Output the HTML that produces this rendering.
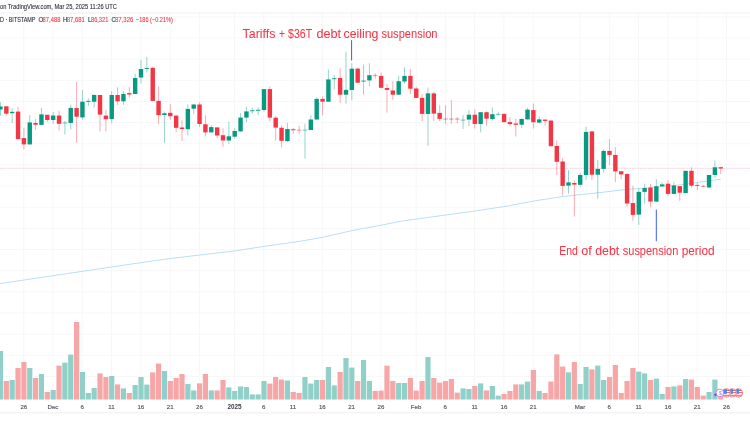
<!DOCTYPE html><html><head><meta charset="utf-8"><style>
html,body{margin:0;padding:0;width:750px;height:430px;overflow:hidden;background:#fff}
svg{display:block;will-change:transform}text{font-family:"Liberation Sans",sans-serif}
</style></head><body>
<svg width="750" height="430" viewBox="0 0 750 430">
<path d="M23.8 13V400 M53.0 13V400 M82.3 13V400 M111.5 13V400 M140.8 13V400 M170.2 13V400 M199.4 13V400 M234.6 13V400 M263.8 13V400 M293.0 13V400 M322.3 13V400 M351.6 13V400 M380.9 13V400 M416.1 13V400 M445.3 13V400 M474.6 13V400 M503.9 13V400 M533.2 13V400 M580.0 13V400 M609.3 13V400 M638.6 13V400 M667.9 13V400 M697.2 13V400 M726.4 13V400 M0 16.85H750 M0 38.00H750 M0 59.15H750 M0 80.30H750 M0 101.45H750 M0 122.60H750 M0 143.75H750 M0 164.90H750 M0 186.05H750 M0 207.20H750 M0 228.35H750 M0 249.50H750 M0 270.65H750 M0 291.80H750 M0 312.95H750 M0 334.10H750 M0 355.25H750 M0 376.40H750" stroke="#f7f7f8" stroke-width="1" fill="none"/>
<path d="M0 13.0H750" stroke="#eeeeee" stroke-width="1"/>
<path d="M0 412.7H750" stroke="#f4f4f4" stroke-width="1.5"/>
<polyline points="0,283.6 82,271.4 150,261.3 170,258.6 200,255 234,251 264,246.4 300,241.3 322,237.4 352,230.6 382,225 402,221 420,218.6 450,214.4 475,211 504,206.6 534,201 562,196.6 600,192.6 620,190.1 675,185.4 685,184.2 720.7,179.2" fill="none" stroke="rgb(186,223,244)" stroke-width="1"/>
<path d="M0 168.3H750" stroke="rgba(242,54,69,0.22)" stroke-width="1" stroke-dasharray="2 0.7"/>
<rect x="-2.13" y="351.00" width="5.2" height="48.50" fill="rgb(144,208,200)"/>
<rect x="3.73" y="381.00" width="5.2" height="18.50" fill="rgb(247,166,168)"/>
<rect x="9.58" y="380.00" width="5.2" height="19.50" fill="rgb(144,208,200)"/>
<rect x="15.44" y="368.00" width="5.2" height="31.50" fill="rgb(247,166,168)"/>
<rect x="21.29" y="362.00" width="5.2" height="37.50" fill="rgb(247,166,168)"/>
<rect x="27.15" y="368.00" width="5.2" height="31.50" fill="rgb(144,208,200)"/>
<rect x="33.01" y="378.00" width="5.2" height="21.50" fill="rgb(247,166,168)"/>
<rect x="38.86" y="374.00" width="5.2" height="25.50" fill="rgb(144,208,200)"/>
<rect x="44.72" y="392.00" width="5.2" height="7.50" fill="rgb(247,166,168)"/>
<rect x="50.57" y="390.00" width="5.2" height="9.50" fill="rgb(144,208,200)"/>
<rect x="56.43" y="365.60" width="5.2" height="33.90" fill="rgb(247,166,168)"/>
<rect x="62.29" y="362.60" width="5.2" height="36.90" fill="rgb(144,208,200)"/>
<rect x="68.14" y="354.60" width="5.2" height="44.90" fill="rgb(144,208,200)"/>
<rect x="74.00" y="322.00" width="5.2" height="77.50" fill="rgb(247,166,168)"/>
<rect x="79.85" y="372.00" width="5.2" height="27.50" fill="rgb(144,208,200)"/>
<rect x="85.71" y="393.00" width="5.2" height="6.50" fill="rgb(144,208,200)"/>
<rect x="91.57" y="388.00" width="5.2" height="11.50" fill="rgb(144,208,200)"/>
<rect x="97.42" y="373.40" width="5.2" height="26.10" fill="rgb(247,166,168)"/>
<rect x="103.28" y="377.00" width="5.2" height="22.50" fill="rgb(247,166,168)"/>
<rect x="109.13" y="376.00" width="5.2" height="23.50" fill="rgb(144,208,200)"/>
<rect x="114.99" y="384.40" width="5.2" height="15.10" fill="rgb(247,166,168)"/>
<rect x="120.85" y="388.40" width="5.2" height="11.10" fill="rgb(144,208,200)"/>
<rect x="126.70" y="393.00" width="5.2" height="6.50" fill="rgb(247,166,168)"/>
<rect x="132.56" y="385.00" width="5.2" height="14.50" fill="rgb(144,208,200)"/>
<rect x="138.41" y="377.00" width="5.2" height="22.50" fill="rgb(144,208,200)"/>
<rect x="144.27" y="384.60" width="5.2" height="14.90" fill="rgb(144,208,200)"/>
<rect x="150.13" y="372.40" width="5.2" height="27.10" fill="rgb(247,166,168)"/>
<rect x="155.98" y="363.60" width="5.2" height="35.90" fill="rgb(247,166,168)"/>
<rect x="161.84" y="371.00" width="5.2" height="28.50" fill="rgb(144,208,200)"/>
<rect x="167.69" y="381.00" width="5.2" height="18.50" fill="rgb(247,166,168)"/>
<rect x="173.55" y="378.00" width="5.2" height="21.50" fill="rgb(247,166,168)"/>
<rect x="179.41" y="374.00" width="5.2" height="25.50" fill="rgb(247,166,168)"/>
<rect x="185.26" y="384.00" width="5.2" height="15.50" fill="rgb(144,208,200)"/>
<rect x="191.12" y="390.40" width="5.2" height="9.10" fill="rgb(144,208,200)"/>
<rect x="196.97" y="383.40" width="5.2" height="16.10" fill="rgb(247,166,168)"/>
<rect x="202.83" y="374.00" width="5.2" height="25.50" fill="rgb(247,166,168)"/>
<rect x="208.69" y="390.40" width="5.2" height="9.10" fill="rgb(144,208,200)"/>
<rect x="214.54" y="390.40" width="5.2" height="9.10" fill="rgb(247,166,168)"/>
<rect x="220.40" y="380.00" width="5.2" height="19.50" fill="rgb(247,166,168)"/>
<rect x="226.25" y="387.40" width="5.2" height="12.10" fill="rgb(144,208,200)"/>
<rect x="232.11" y="391.00" width="5.2" height="8.50" fill="rgb(144,208,200)"/>
<rect x="237.97" y="386.40" width="5.2" height="13.10" fill="rgb(144,208,200)"/>
<rect x="243.82" y="387.00" width="5.2" height="12.50" fill="rgb(144,208,200)"/>
<rect x="249.68" y="394.40" width="5.2" height="5.10" fill="rgb(144,208,200)"/>
<rect x="255.53" y="394.40" width="5.2" height="5.10" fill="rgb(144,208,200)"/>
<rect x="261.39" y="381.00" width="5.2" height="18.50" fill="rgb(144,208,200)"/>
<rect x="267.25" y="383.60" width="5.2" height="15.90" fill="rgb(247,166,168)"/>
<rect x="273.10" y="377.00" width="5.2" height="22.50" fill="rgb(247,166,168)"/>
<rect x="278.96" y="379.60" width="5.2" height="19.90" fill="rgb(247,166,168)"/>
<rect x="284.81" y="380.60" width="5.2" height="18.90" fill="rgb(144,208,200)"/>
<rect x="290.67" y="392.00" width="5.2" height="7.50" fill="rgb(247,166,168)"/>
<rect x="296.53" y="393.00" width="5.2" height="6.50" fill="rgb(247,166,168)"/>
<rect x="302.38" y="377.00" width="5.2" height="22.50" fill="rgb(144,208,200)"/>
<rect x="308.24" y="383.60" width="5.2" height="15.90" fill="rgb(144,208,200)"/>
<rect x="314.09" y="380.00" width="5.2" height="19.50" fill="rgb(144,208,200)"/>
<rect x="319.95" y="380.00" width="5.2" height="19.50" fill="rgb(247,166,168)"/>
<rect x="325.81" y="367.00" width="5.2" height="32.50" fill="rgb(144,208,200)"/>
<rect x="331.66" y="385.40" width="5.2" height="14.10" fill="rgb(144,208,200)"/>
<rect x="337.52" y="372.00" width="5.2" height="27.50" fill="rgb(247,166,168)"/>
<rect x="343.37" y="358.00" width="5.2" height="41.50" fill="rgb(144,208,200)"/>
<rect x="349.23" y="367.60" width="5.2" height="31.90" fill="rgb(144,208,200)"/>
<rect x="355.09" y="381.00" width="5.2" height="18.50" fill="rgb(247,166,168)"/>
<rect x="360.94" y="360.00" width="5.2" height="39.50" fill="rgb(144,208,200)"/>
<rect x="366.80" y="381.00" width="5.2" height="18.50" fill="rgb(144,208,200)"/>
<rect x="372.65" y="391.00" width="5.2" height="8.50" fill="rgb(247,166,168)"/>
<rect x="378.51" y="390.60" width="5.2" height="8.90" fill="rgb(247,166,168)"/>
<rect x="384.37" y="365.60" width="5.2" height="33.90" fill="rgb(247,166,168)"/>
<rect x="390.22" y="381.00" width="5.2" height="18.50" fill="rgb(247,166,168)"/>
<rect x="396.08" y="383.00" width="5.2" height="16.50" fill="rgb(144,208,200)"/>
<rect x="401.93" y="383.00" width="5.2" height="16.50" fill="rgb(144,208,200)"/>
<rect x="407.79" y="378.00" width="5.2" height="21.50" fill="rgb(247,166,168)"/>
<rect x="413.65" y="390.60" width="5.2" height="8.90" fill="rgb(247,166,168)"/>
<rect x="419.50" y="381.00" width="5.2" height="18.50" fill="rgb(247,166,168)"/>
<rect x="425.36" y="357.00" width="5.2" height="42.50" fill="rgb(144,208,200)"/>
<rect x="431.21" y="378.00" width="5.2" height="21.50" fill="rgb(247,166,168)"/>
<rect x="437.07" y="382.60" width="5.2" height="16.90" fill="rgb(247,166,168)"/>
<rect x="442.93" y="381.00" width="5.2" height="18.50" fill="rgb(247,166,168)"/>
<rect x="448.78" y="379.00" width="5.2" height="20.50" fill="rgb(247,166,168)"/>
<rect x="454.64" y="392.60" width="5.2" height="6.90" fill="rgb(247,166,168)"/>
<rect x="460.49" y="388.40" width="5.2" height="11.10" fill="rgb(144,208,200)"/>
<rect x="466.35" y="389.00" width="5.2" height="10.50" fill="rgb(144,208,200)"/>
<rect x="472.21" y="386.00" width="5.2" height="13.50" fill="rgb(247,166,168)"/>
<rect x="478.06" y="383.40" width="5.2" height="16.10" fill="rgb(144,208,200)"/>
<rect x="483.92" y="390.40" width="5.2" height="9.10" fill="rgb(247,166,168)"/>
<rect x="489.77" y="386.00" width="5.2" height="13.50" fill="rgb(144,208,200)"/>
<rect x="495.63" y="395.60" width="5.2" height="3.90" fill="rgb(144,208,200)"/>
<rect x="501.49" y="394.00" width="5.2" height="5.50" fill="rgb(247,166,168)"/>
<rect x="507.34" y="391.00" width="5.2" height="8.50" fill="rgb(247,166,168)"/>
<rect x="513.20" y="384.40" width="5.2" height="15.10" fill="rgb(247,166,168)"/>
<rect x="519.05" y="384.40" width="5.2" height="15.10" fill="rgb(144,208,200)"/>
<rect x="524.91" y="381.60" width="5.2" height="17.90" fill="rgb(144,208,200)"/>
<rect x="530.77" y="370.00" width="5.2" height="29.50" fill="rgb(247,166,168)"/>
<rect x="536.62" y="391.00" width="5.2" height="8.50" fill="rgb(144,208,200)"/>
<rect x="542.48" y="393.00" width="5.2" height="6.50" fill="rgb(247,166,168)"/>
<rect x="548.33" y="381.60" width="5.2" height="17.90" fill="rgb(247,166,168)"/>
<rect x="554.19" y="354.40" width="5.2" height="45.10" fill="rgb(247,166,168)"/>
<rect x="560.05" y="366.60" width="5.2" height="32.90" fill="rgb(247,166,168)"/>
<rect x="565.90" y="372.40" width="5.2" height="27.10" fill="rgb(144,208,200)"/>
<rect x="571.76" y="362.00" width="5.2" height="37.50" fill="rgb(247,166,168)"/>
<rect x="577.61" y="384.00" width="5.2" height="15.50" fill="rgb(144,208,200)"/>
<rect x="583.47" y="367.00" width="5.2" height="32.50" fill="rgb(144,208,200)"/>
<rect x="589.33" y="369.40" width="5.2" height="30.10" fill="rgb(247,166,168)"/>
<rect x="595.18" y="365.60" width="5.2" height="33.90" fill="rgb(144,208,200)"/>
<rect x="601.04" y="380.00" width="5.2" height="19.50" fill="rgb(144,208,200)"/>
<rect x="606.89" y="377.00" width="5.2" height="22.50" fill="rgb(247,166,168)"/>
<rect x="612.75" y="365.00" width="5.2" height="34.50" fill="rgb(247,166,168)"/>
<rect x="618.61" y="393.00" width="5.2" height="6.50" fill="rgb(247,166,168)"/>
<rect x="624.46" y="381.00" width="5.2" height="18.50" fill="rgb(247,166,168)"/>
<rect x="630.32" y="368.00" width="5.2" height="31.50" fill="rgb(247,166,168)"/>
<rect x="636.17" y="371.60" width="5.2" height="27.90" fill="rgb(144,208,200)"/>
<rect x="642.03" y="373.40" width="5.2" height="26.10" fill="rgb(144,208,200)"/>
<rect x="647.89" y="380.00" width="5.2" height="19.50" fill="rgb(247,166,168)"/>
<rect x="653.74" y="378.60" width="5.2" height="20.90" fill="rgb(144,208,200)"/>
<rect x="659.60" y="394.00" width="5.2" height="5.50" fill="rgb(144,208,200)"/>
<rect x="665.45" y="387.00" width="5.2" height="12.50" fill="rgb(247,166,168)"/>
<rect x="671.31" y="386.40" width="5.2" height="13.10" fill="rgb(144,208,200)"/>
<rect x="677.17" y="385.40" width="5.2" height="14.10" fill="rgb(247,166,168)"/>
<rect x="683.02" y="379.00" width="5.2" height="20.50" fill="rgb(144,208,200)"/>
<rect x="688.88" y="379.60" width="5.2" height="19.90" fill="rgb(247,166,168)"/>
<rect x="694.73" y="387.00" width="5.2" height="12.50" fill="rgb(247,166,168)"/>
<rect x="700.59" y="395.60" width="5.2" height="3.90" fill="rgb(247,166,168)"/>
<rect x="706.45" y="392.00" width="5.2" height="7.50" fill="rgb(144,208,200)"/>
<rect x="712.30" y="379.60" width="5.2" height="19.90" fill="rgb(144,208,200)"/>
<rect x="718.16" y="396.00" width="5.2" height="3.50" fill="rgb(247,166,168)"/>
<path d="M0.47 102.3V115.8" stroke="#089981" stroke-opacity="0.42" stroke-width="1.0"/>
<rect x="-1.73" y="106.50" width="4.4" height="3.00" fill="#089981" fill-opacity="1.00"/>
<path d="M6.33 106.0V115.8" stroke="#F23645" stroke-opacity="0.42" stroke-width="1.0"/>
<rect x="4.13" y="106.30" width="4.4" height="7.40" fill="#F23645" fill-opacity="1.00"/>
<path d="M12.18 108.1V123.2" stroke="#089981" stroke-opacity="0.42" stroke-width="1.0"/>
<rect x="9.98" y="111.80" width="4.4" height="1.40" fill="#089981" fill-opacity="1.00"/>
<path d="M18.04 107.0V139.5" stroke="#F23645" stroke-opacity="0.42" stroke-width="1.0"/>
<rect x="15.84" y="111.60" width="4.4" height="27.50" fill="#F23645" fill-opacity="1.00"/>
<path d="M23.89 127.7V149.3" stroke="#F23645" stroke-opacity="0.42" stroke-width="1.0"/>
<rect x="21.69" y="138.10" width="4.4" height="6.30" fill="#F23645" fill-opacity="1.00"/>
<path d="M29.75 115.1V144.4" stroke="#089981" stroke-opacity="0.42" stroke-width="1.0"/>
<rect x="27.55" y="122.40" width="4.4" height="22.00" fill="#089981" fill-opacity="1.00"/>
<path d="M35.61 118.6V129.7" stroke="#F23645" stroke-opacity="0.42" stroke-width="1.0"/>
<rect x="33.41" y="123.00" width="4.4" height="1.70" fill="#F23645" fill-opacity="1.00"/>
<path d="M41.46 107.9V124.9" stroke="#089981" stroke-opacity="0.42" stroke-width="1.0"/>
<rect x="39.26" y="114.40" width="4.4" height="10.50" fill="#089981" fill-opacity="1.00"/>
<path d="M47.32 114.8V121.8" stroke="#F23645" stroke-opacity="0.42" stroke-width="1.0"/>
<rect x="45.12" y="114.80" width="4.4" height="5.20" fill="#F23645" fill-opacity="1.00"/>
<path d="M53.17 112.0V123.8" stroke="#089981" stroke-opacity="0.42" stroke-width="1.0"/>
<rect x="50.97" y="115.50" width="4.4" height="4.50" fill="#089981" fill-opacity="1.00"/>
<path d="M59.03 110.9V130.7" stroke="#F23645" stroke-opacity="0.42" stroke-width="1.0"/>
<rect x="56.83" y="115.50" width="4.4" height="8.30" fill="#F23645" fill-opacity="1.00"/>
<path d="M64.89 121.0V134.6" stroke="#089981" stroke-opacity="0.42" stroke-width="1.0"/>
<rect x="62.69" y="122.55" width="4.4" height="0.80" fill="#089981" fill-opacity="0.75"/>
<path d="M70.74 104.6V129.3" stroke="#089981" stroke-opacity="0.42" stroke-width="1.0"/>
<rect x="68.54" y="107.90" width="4.4" height="15.10" fill="#089981" fill-opacity="1.00"/>
<path d="M76.60 81.8V142.9" stroke="#F23645" stroke-opacity="0.42" stroke-width="1.0"/>
<rect x="74.40" y="108.10" width="4.4" height="8.60" fill="#F23645" fill-opacity="1.00"/>
<path d="M82.45 89.9V119.5" stroke="#089981" stroke-opacity="0.42" stroke-width="1.0"/>
<rect x="80.25" y="101.70" width="4.4" height="15.70" fill="#089981" fill-opacity="1.00"/>
<path d="M88.31 98.2V105.9" stroke="#089981" stroke-opacity="0.42" stroke-width="1.0"/>
<rect x="86.11" y="100.90" width="4.4" height="1.00" fill="#089981" fill-opacity="0.90"/>
<path d="M94.17 94.0V107.7" stroke="#089981" stroke-opacity="0.42" stroke-width="1.0"/>
<rect x="91.97" y="95.00" width="4.4" height="6.70" fill="#089981" fill-opacity="1.00"/>
<path d="M100.02 95.0V131.4" stroke="#F23645" stroke-opacity="0.42" stroke-width="1.0"/>
<rect x="97.82" y="95.00" width="4.4" height="19.60" fill="#F23645" fill-opacity="1.00"/>
<path d="M105.88 110.0V131.4" stroke="#F23645" stroke-opacity="0.42" stroke-width="1.0"/>
<rect x="103.68" y="115.60" width="4.4" height="3.60" fill="#F23645" fill-opacity="1.00"/>
<path d="M111.73 91.0V123.4" stroke="#089981" stroke-opacity="0.42" stroke-width="1.0"/>
<rect x="109.53" y="95.00" width="4.4" height="24.10" fill="#089981" fill-opacity="1.00"/>
<path d="M117.59 87.3V104.9" stroke="#F23645" stroke-opacity="0.42" stroke-width="1.0"/>
<rect x="115.39" y="95.00" width="4.4" height="6.30" fill="#F23645" fill-opacity="1.00"/>
<path d="M123.45 91.0V104.9" stroke="#089981" stroke-opacity="0.42" stroke-width="1.0"/>
<rect x="121.25" y="94.00" width="4.4" height="7.30" fill="#089981" fill-opacity="1.00"/>
<path d="M129.30 87.0V97.5" stroke="#F23645" stroke-opacity="0.42" stroke-width="1.0"/>
<rect x="127.10" y="93.10" width="4.4" height="1.40" fill="#F23645" fill-opacity="1.00"/>
<path d="M135.16 73.8V94.0" stroke="#089981" stroke-opacity="0.42" stroke-width="1.0"/>
<rect x="132.96" y="78.00" width="4.4" height="16.00" fill="#089981" fill-opacity="1.00"/>
<path d="M141.01 59.9V83.6" stroke="#089981" stroke-opacity="0.42" stroke-width="1.0"/>
<rect x="138.81" y="69.00" width="4.4" height="8.50" fill="#089981" fill-opacity="1.00"/>
<path d="M146.87 57.0V72.6" stroke="#089981" stroke-opacity="0.42" stroke-width="1.0"/>
<rect x="144.67" y="68.00" width="4.4" height="1.00" fill="#089981" fill-opacity="0.90"/>
<path d="M152.73 66.7V100.9" stroke="#F23645" stroke-opacity="0.42" stroke-width="1.0"/>
<rect x="150.53" y="67.80" width="4.4" height="33.10" fill="#F23645" fill-opacity="1.00"/>
<path d="M158.58 86.5V124.3" stroke="#F23645" stroke-opacity="0.42" stroke-width="1.0"/>
<rect x="156.38" y="100.90" width="4.4" height="14.30" fill="#F23645" fill-opacity="1.00"/>
<path d="M164.44 111.5V143.1" stroke="#089981" stroke-opacity="0.42" stroke-width="1.0"/>
<rect x="162.24" y="113.30" width="4.4" height="1.70" fill="#089981" fill-opacity="1.00"/>
<path d="M170.29 104.0V120.1" stroke="#F23645" stroke-opacity="0.42" stroke-width="1.0"/>
<rect x="168.09" y="112.80" width="4.4" height="3.40" fill="#F23645" fill-opacity="1.00"/>
<path d="M176.15 115.6V131.9" stroke="#F23645" stroke-opacity="0.42" stroke-width="1.0"/>
<rect x="173.95" y="115.60" width="4.4" height="12.20" fill="#F23645" fill-opacity="1.00"/>
<path d="M182.01 120.1V141.0" stroke="#F23645" stroke-opacity="0.42" stroke-width="1.0"/>
<rect x="179.81" y="127.50" width="4.4" height="1.50" fill="#F23645" fill-opacity="1.00"/>
<path d="M187.86 104.5V135.4" stroke="#089981" stroke-opacity="0.42" stroke-width="1.0"/>
<rect x="185.66" y="108.90" width="4.4" height="20.30" fill="#089981" fill-opacity="1.00"/>
<path d="M193.72 104.0V113.8" stroke="#089981" stroke-opacity="0.42" stroke-width="1.0"/>
<rect x="191.52" y="104.50" width="4.4" height="4.20" fill="#089981" fill-opacity="1.00"/>
<path d="M199.57 102.2V127.1" stroke="#F23645" stroke-opacity="0.42" stroke-width="1.0"/>
<rect x="197.37" y="104.50" width="4.4" height="19.50" fill="#F23645" fill-opacity="1.00"/>
<path d="M205.43 115.2V136.5" stroke="#F23645" stroke-opacity="0.42" stroke-width="1.0"/>
<rect x="203.23" y="124.30" width="4.4" height="8.10" fill="#F23645" fill-opacity="1.00"/>
<path d="M211.29 125.0V132.4" stroke="#089981" stroke-opacity="0.42" stroke-width="1.0"/>
<rect x="209.09" y="127.10" width="4.4" height="5.30" fill="#089981" fill-opacity="1.00"/>
<path d="M217.14 127.4V138.0" stroke="#F23645" stroke-opacity="0.42" stroke-width="1.0"/>
<rect x="214.94" y="127.40" width="4.4" height="8.10" fill="#F23645" fill-opacity="1.00"/>
<path d="M223.00 128.2V146.8" stroke="#F23645" stroke-opacity="0.42" stroke-width="1.0"/>
<rect x="220.80" y="135.20" width="4.4" height="5.30" fill="#F23645" fill-opacity="1.00"/>
<path d="M228.85 121.7V144.0" stroke="#089981" stroke-opacity="0.42" stroke-width="1.0"/>
<rect x="226.65" y="136.30" width="4.4" height="4.20" fill="#089981" fill-opacity="1.00"/>
<path d="M234.71 128.2V138.7" stroke="#089981" stroke-opacity="0.42" stroke-width="1.0"/>
<rect x="232.51" y="131.00" width="4.4" height="5.70" fill="#089981" fill-opacity="1.00"/>
<path d="M240.57 113.2V131.4" stroke="#089981" stroke-opacity="0.42" stroke-width="1.0"/>
<rect x="238.37" y="117.60" width="4.4" height="13.80" fill="#089981" fill-opacity="1.00"/>
<path d="M246.42 106.8V122.0" stroke="#089981" stroke-opacity="0.42" stroke-width="1.0"/>
<rect x="244.22" y="111.40" width="4.4" height="6.20" fill="#089981" fill-opacity="1.00"/>
<path d="M252.28 107.9V113.5" stroke="#089981" stroke-opacity="0.42" stroke-width="1.0"/>
<rect x="250.08" y="110.20" width="4.4" height="1.00" fill="#089981" fill-opacity="0.90"/>
<path d="M258.13 107.6V115.1" stroke="#089981" stroke-opacity="0.42" stroke-width="1.0"/>
<rect x="255.93" y="109.80" width="4.4" height="1.00" fill="#089981" fill-opacity="0.90"/>
<path d="M263.99 89.1V111.8" stroke="#089981" stroke-opacity="0.42" stroke-width="1.0"/>
<rect x="261.79" y="89.10" width="4.4" height="20.90" fill="#089981" fill-opacity="1.00"/>
<path d="M269.85 86.3V121.4" stroke="#F23645" stroke-opacity="0.42" stroke-width="1.0"/>
<rect x="267.65" y="89.10" width="4.4" height="28.50" fill="#F23645" fill-opacity="1.00"/>
<path d="M275.70 116.0V140.5" stroke="#F23645" stroke-opacity="0.42" stroke-width="1.0"/>
<rect x="273.50" y="117.70" width="4.4" height="9.90" fill="#F23645" fill-opacity="1.00"/>
<path d="M281.56 125.6V147.4" stroke="#F23645" stroke-opacity="0.42" stroke-width="1.0"/>
<rect x="279.36" y="127.80" width="4.4" height="13.00" fill="#F23645" fill-opacity="1.00"/>
<path d="M287.41 123.0V141.8" stroke="#089981" stroke-opacity="0.42" stroke-width="1.0"/>
<rect x="285.21" y="129.00" width="4.4" height="12.10" fill="#089981" fill-opacity="1.00"/>
<path d="M293.27 127.9V133.9" stroke="#F23645" stroke-opacity="0.42" stroke-width="1.0"/>
<rect x="291.07" y="129.20" width="4.4" height="1.00" fill="#F23645" fill-opacity="0.90"/>
<path d="M299.13 125.8V133.9" stroke="#F23645" stroke-opacity="0.42" stroke-width="1.0"/>
<rect x="296.93" y="129.75" width="4.4" height="0.80" fill="#F23645" fill-opacity="0.65"/>
<path d="M304.98 123.7V158.6" stroke="#089981" stroke-opacity="0.42" stroke-width="1.0"/>
<rect x="302.78" y="129.75" width="4.4" height="0.80" fill="#089981" fill-opacity="0.65"/>
<path d="M310.84 115.3V130.0" stroke="#089981" stroke-opacity="0.42" stroke-width="1.0"/>
<rect x="308.64" y="119.50" width="4.4" height="10.50" fill="#089981" fill-opacity="1.00"/>
<path d="M316.69 97.1V119.5" stroke="#089981" stroke-opacity="0.42" stroke-width="1.0"/>
<rect x="314.49" y="98.90" width="4.4" height="20.60" fill="#089981" fill-opacity="1.00"/>
<path d="M322.55 96.5V115.3" stroke="#F23645" stroke-opacity="0.42" stroke-width="1.0"/>
<rect x="320.35" y="98.90" width="4.4" height="2.80" fill="#F23645" fill-opacity="1.00"/>
<path d="M328.41 69.6V101.7" stroke="#089981" stroke-opacity="0.42" stroke-width="1.0"/>
<rect x="326.21" y="79.40" width="4.4" height="22.30" fill="#089981" fill-opacity="1.00"/>
<path d="M334.26 75.2V89.2" stroke="#089981" stroke-opacity="0.42" stroke-width="1.0"/>
<rect x="332.06" y="78.20" width="4.4" height="1.00" fill="#089981" fill-opacity="0.90"/>
<path d="M340.12 67.8V103.1" stroke="#F23645" stroke-opacity="0.42" stroke-width="1.0"/>
<rect x="337.92" y="78.00" width="4.4" height="16.70" fill="#F23645" fill-opacity="1.00"/>
<path d="M345.97 51.8V103.6" stroke="#089981" stroke-opacity="0.42" stroke-width="1.0"/>
<rect x="343.77" y="89.90" width="4.4" height="4.80" fill="#089981" fill-opacity="1.00"/>
<path d="M351.83 63.2V100.3" stroke="#089981" stroke-opacity="0.42" stroke-width="1.0"/>
<rect x="349.63" y="68.70" width="4.4" height="21.30" fill="#089981" fill-opacity="1.00"/>
<path d="M357.69 67.6V82.9" stroke="#F23645" stroke-opacity="0.42" stroke-width="1.0"/>
<rect x="355.49" y="68.60" width="4.4" height="14.10" fill="#F23645" fill-opacity="1.00"/>
<path d="M363.54 64.7V94.7" stroke="#089981" stroke-opacity="0.42" stroke-width="1.0"/>
<rect x="361.34" y="80.60" width="4.4" height="1.00" fill="#089981" fill-opacity="0.90"/>
<path d="M369.40 63.3V86.4" stroke="#089981" stroke-opacity="0.42" stroke-width="1.0"/>
<rect x="367.20" y="75.20" width="4.4" height="5.20" fill="#089981" fill-opacity="1.00"/>
<path d="M375.25 73.1V78.7" stroke="#F23645" stroke-opacity="0.42" stroke-width="1.0"/>
<rect x="373.05" y="75.30" width="4.4" height="0.80" fill="#F23645" fill-opacity="0.70"/>
<path d="M381.11 72.5V87.8" stroke="#F23645" stroke-opacity="0.42" stroke-width="1.0"/>
<rect x="378.91" y="75.90" width="4.4" height="11.90" fill="#F23645" fill-opacity="1.00"/>
<path d="M386.97 84.0V112.6" stroke="#F23645" stroke-opacity="0.42" stroke-width="1.0"/>
<rect x="384.77" y="88.00" width="4.4" height="1.90" fill="#F23645" fill-opacity="1.00"/>
<path d="M392.82 81.2V99.8" stroke="#F23645" stroke-opacity="0.42" stroke-width="1.0"/>
<rect x="390.62" y="90.50" width="4.4" height="4.20" fill="#F23645" fill-opacity="1.00"/>
<path d="M398.68 75.9V94.7" stroke="#089981" stroke-opacity="0.42" stroke-width="1.0"/>
<rect x="396.48" y="81.20" width="4.4" height="13.50" fill="#089981" fill-opacity="1.00"/>
<path d="M404.53 67.3V83.6" stroke="#089981" stroke-opacity="0.42" stroke-width="1.0"/>
<rect x="402.33" y="75.90" width="4.4" height="5.60" fill="#089981" fill-opacity="1.00"/>
<path d="M410.39 68.9V94.0" stroke="#F23645" stroke-opacity="0.42" stroke-width="1.0"/>
<rect x="408.19" y="75.90" width="4.4" height="12.80" fill="#F23645" fill-opacity="1.00"/>
<path d="M416.25 86.8V97.9" stroke="#F23645" stroke-opacity="0.42" stroke-width="1.0"/>
<rect x="414.05" y="88.50" width="4.4" height="9.40" fill="#F23645" fill-opacity="1.00"/>
<path d="M422.10 94.1V121.2" stroke="#F23645" stroke-opacity="0.42" stroke-width="1.0"/>
<rect x="419.90" y="97.90" width="4.4" height="16.00" fill="#F23645" fill-opacity="1.00"/>
<path d="M427.96 87.5V145.8" stroke="#089981" stroke-opacity="0.42" stroke-width="1.0"/>
<rect x="425.76" y="93.40" width="4.4" height="20.60" fill="#089981" fill-opacity="1.00"/>
<path d="M433.81 91.7V121.0" stroke="#F23645" stroke-opacity="0.42" stroke-width="1.0"/>
<rect x="431.61" y="93.40" width="4.4" height="20.20" fill="#F23645" fill-opacity="1.00"/>
<path d="M439.67 105.2V121.0" stroke="#F23645" stroke-opacity="0.42" stroke-width="1.0"/>
<rect x="437.47" y="112.90" width="4.4" height="6.00" fill="#F23645" fill-opacity="1.00"/>
<path d="M445.53 105.2V123.8" stroke="#F23645" stroke-opacity="0.42" stroke-width="1.0"/>
<rect x="443.33" y="118.65" width="4.4" height="0.80" fill="#F23645" fill-opacity="0.75"/>
<path d="M451.38 100.1V123.8" stroke="#F23645" stroke-opacity="0.42" stroke-width="1.0"/>
<rect x="449.18" y="118.65" width="4.4" height="0.80" fill="#F23645" fill-opacity="0.75"/>
<path d="M457.24 117.1V123.3" stroke="#F23645" stroke-opacity="0.42" stroke-width="1.0"/>
<rect x="455.04" y="118.65" width="4.4" height="0.80" fill="#F23645" fill-opacity="0.75"/>
<path d="M463.09 115.0V128.9" stroke="#089981" stroke-opacity="0.42" stroke-width="1.0"/>
<rect x="460.89" y="119.70" width="4.4" height="0.80" fill="#089981" fill-opacity="0.70"/>
<path d="M468.95 110.1V126.1" stroke="#089981" stroke-opacity="0.42" stroke-width="1.0"/>
<rect x="466.75" y="114.70" width="4.4" height="4.90" fill="#089981" fill-opacity="1.00"/>
<path d="M474.81 109.4V128.5" stroke="#F23645" stroke-opacity="0.42" stroke-width="1.0"/>
<rect x="472.61" y="114.70" width="4.4" height="9.30" fill="#F23645" fill-opacity="1.00"/>
<path d="M480.66 112.2V132.4" stroke="#089981" stroke-opacity="0.42" stroke-width="1.0"/>
<rect x="478.46" y="112.20" width="4.4" height="11.80" fill="#089981" fill-opacity="1.00"/>
<path d="M486.52 111.2V125.7" stroke="#F23645" stroke-opacity="0.42" stroke-width="1.0"/>
<rect x="484.32" y="112.20" width="4.4" height="6.50" fill="#F23645" fill-opacity="1.00"/>
<path d="M492.37 107.3V120.6" stroke="#089981" stroke-opacity="0.42" stroke-width="1.0"/>
<rect x="490.17" y="114.20" width="4.4" height="4.90" fill="#089981" fill-opacity="1.00"/>
<path d="M498.23 111.7V115.9" stroke="#089981" stroke-opacity="0.42" stroke-width="1.0"/>
<rect x="496.03" y="113.90" width="4.4" height="0.80" fill="#089981" fill-opacity="0.70"/>
<path d="M504.09 113.8V122.2" stroke="#F23645" stroke-opacity="0.42" stroke-width="1.0"/>
<rect x="501.89" y="113.80" width="4.4" height="8.40" fill="#F23645" fill-opacity="1.00"/>
<path d="M509.94 117.0V126.4" stroke="#F23645" stroke-opacity="0.42" stroke-width="1.0"/>
<rect x="507.74" y="122.10" width="4.4" height="2.00" fill="#F23645" fill-opacity="1.00"/>
<path d="M515.80 118.7V136.5" stroke="#F23645" stroke-opacity="0.42" stroke-width="1.0"/>
<rect x="513.60" y="123.50" width="4.4" height="1.30" fill="#F23645" fill-opacity="1.00"/>
<path d="M521.65 118.0V127.8" stroke="#089981" stroke-opacity="0.42" stroke-width="1.0"/>
<rect x="519.45" y="119.00" width="4.4" height="5.70" fill="#089981" fill-opacity="1.00"/>
<path d="M527.51 107.8V119.4" stroke="#089981" stroke-opacity="0.42" stroke-width="1.0"/>
<rect x="525.31" y="109.60" width="4.4" height="9.80" fill="#089981" fill-opacity="1.00"/>
<path d="M533.37 103.6V128.5" stroke="#F23645" stroke-opacity="0.42" stroke-width="1.0"/>
<rect x="531.17" y="110.10" width="4.4" height="12.10" fill="#F23645" fill-opacity="1.00"/>
<path d="M539.22 116.6V123.6" stroke="#089981" stroke-opacity="0.42" stroke-width="1.0"/>
<rect x="537.02" y="119.40" width="4.4" height="3.20" fill="#089981" fill-opacity="1.00"/>
<path d="M545.08 119.4V125.7" stroke="#F23645" stroke-opacity="0.42" stroke-width="1.0"/>
<rect x="542.88" y="119.60" width="4.4" height="1.30" fill="#F23645" fill-opacity="1.00"/>
<path d="M550.93 120.1V146.2" stroke="#F23645" stroke-opacity="0.42" stroke-width="1.0"/>
<rect x="548.73" y="120.60" width="4.4" height="25.60" fill="#F23645" fill-opacity="1.00"/>
<path d="M556.79 140.6V175.0" stroke="#F23645" stroke-opacity="0.42" stroke-width="1.0"/>
<rect x="554.59" y="145.90" width="4.4" height="15.90" fill="#F23645" fill-opacity="1.00"/>
<path d="M562.65 157.9V195.7" stroke="#F23645" stroke-opacity="0.42" stroke-width="1.0"/>
<rect x="560.45" y="161.50" width="4.4" height="24.40" fill="#F23645" fill-opacity="1.00"/>
<path d="M568.50 170.1V193.6" stroke="#089981" stroke-opacity="0.42" stroke-width="1.0"/>
<rect x="566.30" y="182.40" width="4.4" height="3.20" fill="#089981" fill-opacity="1.00"/>
<path d="M574.36 180.3V216.6" stroke="#F23645" stroke-opacity="0.42" stroke-width="1.0"/>
<rect x="572.16" y="183.00" width="4.4" height="1.60" fill="#F23645" fill-opacity="1.00"/>
<path d="M580.21 172.7V186.6" stroke="#089981" stroke-opacity="0.42" stroke-width="1.0"/>
<rect x="578.01" y="175.00" width="4.4" height="9.80" fill="#089981" fill-opacity="1.00"/>
<path d="M586.07 126.7V180.1" stroke="#089981" stroke-opacity="0.42" stroke-width="1.0"/>
<rect x="583.87" y="131.90" width="4.4" height="43.10" fill="#089981" fill-opacity="1.00"/>
<path d="M591.93 130.9V180.1" stroke="#F23645" stroke-opacity="0.42" stroke-width="1.0"/>
<rect x="589.73" y="131.40" width="4.4" height="43.30" fill="#F23645" fill-opacity="1.00"/>
<path d="M597.78 160.2V198.7" stroke="#089981" stroke-opacity="0.42" stroke-width="1.0"/>
<rect x="595.58" y="168.90" width="4.4" height="5.80" fill="#089981" fill-opacity="1.00"/>
<path d="M603.64 149.3V172.7" stroke="#089981" stroke-opacity="0.42" stroke-width="1.0"/>
<rect x="601.44" y="150.90" width="4.4" height="18.00" fill="#089981" fill-opacity="1.00"/>
<path d="M609.49 139.2V164.9" stroke="#F23645" stroke-opacity="0.42" stroke-width="1.0"/>
<rect x="607.29" y="150.90" width="4.4" height="4.00" fill="#F23645" fill-opacity="1.00"/>
<path d="M615.35 147.2V182.1" stroke="#F23645" stroke-opacity="0.42" stroke-width="1.0"/>
<rect x="613.15" y="154.90" width="4.4" height="16.50" fill="#F23645" fill-opacity="1.00"/>
<path d="M621.21 171.0V179.3" stroke="#F23645" stroke-opacity="0.42" stroke-width="1.0"/>
<rect x="619.01" y="171.30" width="4.4" height="3.10" fill="#F23645" fill-opacity="1.00"/>
<path d="M627.06 173.0V206.5" stroke="#F23645" stroke-opacity="0.42" stroke-width="1.0"/>
<rect x="624.86" y="174.00" width="4.4" height="29.50" fill="#F23645" fill-opacity="1.00"/>
<path d="M632.92 185.9V220.7" stroke="#F23645" stroke-opacity="0.42" stroke-width="1.0"/>
<rect x="630.72" y="203.00" width="4.4" height="11.90" fill="#F23645" fill-opacity="1.00"/>
<path d="M638.77 188.2V224.9" stroke="#089981" stroke-opacity="0.42" stroke-width="1.0"/>
<rect x="636.57" y="191.90" width="4.4" height="22.70" fill="#089981" fill-opacity="1.00"/>
<path d="M644.63 183.7V203.7" stroke="#089981" stroke-opacity="0.42" stroke-width="1.0"/>
<rect x="642.43" y="188.00" width="4.4" height="3.90" fill="#089981" fill-opacity="1.00"/>
<path d="M650.49 184.2V207.2" stroke="#F23645" stroke-opacity="0.42" stroke-width="1.0"/>
<rect x="648.29" y="187.60" width="4.4" height="14.00" fill="#F23645" fill-opacity="1.00"/>
<path d="M656.34 179.0V202.3" stroke="#089981" stroke-opacity="0.42" stroke-width="1.0"/>
<rect x="654.14" y="186.20" width="4.4" height="15.40" fill="#089981" fill-opacity="1.00"/>
<path d="M662.20 182.3V186.5" stroke="#089981" stroke-opacity="0.42" stroke-width="1.0"/>
<rect x="660.00" y="184.40" width="4.4" height="1.90" fill="#089981" fill-opacity="1.00"/>
<path d="M668.05 180.0V196.0" stroke="#F23645" stroke-opacity="0.42" stroke-width="1.0"/>
<rect x="665.85" y="183.70" width="4.4" height="10.20" fill="#F23645" fill-opacity="1.00"/>
<path d="M673.91 182.3V193.9" stroke="#089981" stroke-opacity="0.42" stroke-width="1.0"/>
<rect x="671.71" y="185.50" width="4.4" height="8.40" fill="#089981" fill-opacity="1.00"/>
<path d="M679.77 186.0V200.8" stroke="#F23645" stroke-opacity="0.42" stroke-width="1.0"/>
<rect x="677.57" y="186.10" width="4.4" height="6.60" fill="#F23645" fill-opacity="1.00"/>
<path d="M685.62 170.8V193.1" stroke="#089981" stroke-opacity="0.42" stroke-width="1.0"/>
<rect x="683.42" y="170.80" width="4.4" height="22.30" fill="#089981" fill-opacity="1.00"/>
<path d="M691.48 167.3V187.5" stroke="#F23645" stroke-opacity="0.42" stroke-width="1.0"/>
<rect x="689.28" y="170.80" width="4.4" height="14.90" fill="#F23645" fill-opacity="1.00"/>
<path d="M697.33 182.4V190.3" stroke="#F23645" stroke-opacity="0.42" stroke-width="1.0"/>
<rect x="695.13" y="184.90" width="4.4" height="1.00" fill="#F23645" fill-opacity="0.90"/>
<path d="M703.19 184.7V186.8" stroke="#F23645" stroke-opacity="0.42" stroke-width="1.0"/>
<rect x="700.99" y="185.85" width="4.4" height="0.80" fill="#F23645" fill-opacity="0.75"/>
<path d="M709.05 175.0V187.5" stroke="#089981" stroke-opacity="0.42" stroke-width="1.0"/>
<rect x="706.85" y="175.00" width="4.4" height="12.50" fill="#089981" fill-opacity="1.00"/>
<path d="M714.90 160.6V177.8" stroke="#089981" stroke-opacity="0.42" stroke-width="1.0"/>
<rect x="712.70" y="167.30" width="4.4" height="7.70" fill="#089981" fill-opacity="1.00"/>
<path d="M720.76 166.6V174.0" stroke="#F23645" stroke-opacity="0.42" stroke-width="1.0"/>
<rect x="718.56" y="167.20" width="4.4" height="1.30" fill="#F23645" fill-opacity="1.00"/>
<path d="M351.6 40.2V60.4M656.3 209.6V241.2" stroke="#3a5cf5" stroke-width="1"/>
<text x="242.6" y="37.6" font-size="11.9" fill="#F23645" stroke="#F23645" stroke-width="0.12" stroke-opacity="0.4" textLength="32.8" lengthAdjust="spacingAndGlyphs">Tariffs</text>
<text x="279.0" y="37.6" font-size="11.9" fill="#F23645" stroke="#F23645" stroke-width="0.12" stroke-opacity="0.4" textLength="5.9" lengthAdjust="spacingAndGlyphs">+</text>
<text x="288.1" y="37.6" font-size="11.9" fill="#F23645" stroke="#F23645" stroke-width="0.12" stroke-opacity="0.4" textLength="24.0" lengthAdjust="spacingAndGlyphs">$36T</text>
<text x="316.4" y="37.6" font-size="11.9" fill="#F23645" stroke="#F23645" stroke-width="0.12" stroke-opacity="0.4" textLength="24.7" lengthAdjust="spacingAndGlyphs">debt</text>
<text x="343.5" y="37.6" font-size="11.9" fill="#F23645" stroke="#F23645" stroke-width="0.12" stroke-opacity="0.4" textLength="34.9" lengthAdjust="spacingAndGlyphs">ceiling</text>
<text x="381.4" y="37.6" font-size="11.9" fill="#F23645" stroke="#F23645" stroke-width="0.12" stroke-opacity="0.4" textLength="56.1" lengthAdjust="spacingAndGlyphs">suspension</text>
<text x="559.3" y="255.4" font-size="11.9" fill="#F23645" stroke="#F23645" stroke-width="0.12" stroke-opacity="0.4" textLength="18.6" lengthAdjust="spacingAndGlyphs">End</text>
<text x="581.3" y="255.4" font-size="11.9" fill="#F23645" stroke="#F23645" stroke-width="0.12" stroke-opacity="0.4" textLength="10.5" lengthAdjust="spacingAndGlyphs">of</text>
<text x="595.2" y="255.4" font-size="11.9" fill="#F23645" stroke="#F23645" stroke-width="0.12" stroke-opacity="0.4" textLength="24.1" lengthAdjust="spacingAndGlyphs">debt</text>
<text x="622.8" y="255.4" font-size="11.9" fill="#F23645" stroke="#F23645" stroke-width="0.12" stroke-opacity="0.4" textLength="55.5" lengthAdjust="spacingAndGlyphs">suspension</text>
<text x="681.7" y="255.4" font-size="11.9" fill="#F23645" stroke="#F23645" stroke-width="0.12" stroke-opacity="0.4" textLength="32.9" lengthAdjust="spacingAndGlyphs">period</text>
<text x="0" y="9.1" font-size="6.3" fill="#2a2e39" stroke="#2a2e39" stroke-width="0.18" stroke-opacity="0.5" textLength="117" lengthAdjust="spacingAndGlyphs">on TradingView.com, Mar 25, 2025 11:26 UTC</text>
<text x="0" y="21.8" font-size="6.3" fill="#2a2e39" stroke="#2a2e39" stroke-width="0.18" stroke-opacity="0.5" textLength="35.5" lengthAdjust="spacingAndGlyphs">D · BITSTAMP</text>
<text x="38.4" y="21.8" font-size="6.3" fill="#2a2e39" stroke="#2a2e39" stroke-width="0.18" stroke-opacity="0.5" textLength="4.8" lengthAdjust="spacingAndGlyphs">O</text>
<text x="42.6" y="21.8" font-size="6.3" fill="#F23645" stroke="#F23645" stroke-width="0.18" stroke-opacity="0.5" textLength="17.8" lengthAdjust="spacingAndGlyphs">87,488</text>
<text x="63.0" y="21.8" font-size="6.3" fill="#2a2e39" stroke="#2a2e39" stroke-width="0.18" stroke-opacity="0.5" textLength="4.4" lengthAdjust="spacingAndGlyphs">H</text>
<text x="66.8" y="21.8" font-size="6.3" fill="#F23645" stroke="#F23645" stroke-width="0.18" stroke-opacity="0.5" textLength="18.0" lengthAdjust="spacingAndGlyphs">87,681</text>
<text x="88.0" y="21.8" font-size="6.3" fill="#2a2e39" stroke="#2a2e39" stroke-width="0.18" stroke-opacity="0.5" textLength="3.6" lengthAdjust="spacingAndGlyphs">L</text>
<text x="91.0" y="21.8" font-size="6.3" fill="#F23645" stroke="#F23645" stroke-width="0.18" stroke-opacity="0.5" textLength="17.3" lengthAdjust="spacingAndGlyphs">86,321</text>
<text x="111.5" y="21.8" font-size="6.3" fill="#2a2e39" stroke="#2a2e39" stroke-width="0.18" stroke-opacity="0.5" textLength="4.1" lengthAdjust="spacingAndGlyphs">C</text>
<text x="115.0" y="21.8" font-size="6.3" fill="#F23645" stroke="#F23645" stroke-width="0.18" stroke-opacity="0.5" textLength="18.3" lengthAdjust="spacingAndGlyphs">87,326</text>
<text x="136.0" y="21.8" font-size="6.3" fill="#F23645" stroke="#F23645" stroke-width="0.18" stroke-opacity="0.5" textLength="36.8" lengthAdjust="spacingAndGlyphs">−186 (−0.21%)</text>
<text x="23.8" y="408.6" font-size="6.1" fill="#4a4d57" stroke="#4a4d57" stroke-width="0.2" stroke-opacity="0.6" text-anchor="middle">26</text>
<text x="53.0" y="408.6" font-size="6.1" fill="#4a4d57" stroke="#4a4d57" stroke-width="0.2" stroke-opacity="0.6" text-anchor="middle">Dec</text>
<text x="82.3" y="408.6" font-size="6.1" fill="#4a4d57" stroke="#4a4d57" stroke-width="0.2" stroke-opacity="0.6" text-anchor="middle">6</text>
<text x="111.5" y="408.6" font-size="6.1" fill="#4a4d57" stroke="#4a4d57" stroke-width="0.2" stroke-opacity="0.6" text-anchor="middle">11</text>
<text x="140.8" y="408.6" font-size="6.1" fill="#4a4d57" stroke="#4a4d57" stroke-width="0.2" stroke-opacity="0.6" text-anchor="middle">16</text>
<text x="170.2" y="408.6" font-size="6.1" fill="#4a4d57" stroke="#4a4d57" stroke-width="0.2" stroke-opacity="0.6" text-anchor="middle">21</text>
<text x="199.4" y="408.6" font-size="6.1" fill="#4a4d57" stroke="#4a4d57" stroke-width="0.2" stroke-opacity="0.6" text-anchor="middle">26</text>
<text x="234.6" y="408.6" font-size="6.3" fill="#3a3d47" text-anchor="middle" font-weight="bold">2025</text>
<text x="263.8" y="408.6" font-size="6.1" fill="#4a4d57" stroke="#4a4d57" stroke-width="0.2" stroke-opacity="0.6" text-anchor="middle">6</text>
<text x="293.0" y="408.6" font-size="6.1" fill="#4a4d57" stroke="#4a4d57" stroke-width="0.2" stroke-opacity="0.6" text-anchor="middle">11</text>
<text x="322.3" y="408.6" font-size="6.1" fill="#4a4d57" stroke="#4a4d57" stroke-width="0.2" stroke-opacity="0.6" text-anchor="middle">16</text>
<text x="351.6" y="408.6" font-size="6.1" fill="#4a4d57" stroke="#4a4d57" stroke-width="0.2" stroke-opacity="0.6" text-anchor="middle">21</text>
<text x="380.9" y="408.6" font-size="6.1" fill="#4a4d57" stroke="#4a4d57" stroke-width="0.2" stroke-opacity="0.6" text-anchor="middle">26</text>
<text x="416.1" y="408.6" font-size="6.1" fill="#4a4d57" stroke="#4a4d57" stroke-width="0.2" stroke-opacity="0.6" text-anchor="middle">Feb</text>
<text x="445.3" y="408.6" font-size="6.1" fill="#4a4d57" stroke="#4a4d57" stroke-width="0.2" stroke-opacity="0.6" text-anchor="middle">6</text>
<text x="474.6" y="408.6" font-size="6.1" fill="#4a4d57" stroke="#4a4d57" stroke-width="0.2" stroke-opacity="0.6" text-anchor="middle">11</text>
<text x="503.9" y="408.6" font-size="6.1" fill="#4a4d57" stroke="#4a4d57" stroke-width="0.2" stroke-opacity="0.6" text-anchor="middle">16</text>
<text x="533.2" y="408.6" font-size="6.1" fill="#4a4d57" stroke="#4a4d57" stroke-width="0.2" stroke-opacity="0.6" text-anchor="middle">21</text>
<text x="580.0" y="408.6" font-size="6.1" fill="#4a4d57" stroke="#4a4d57" stroke-width="0.2" stroke-opacity="0.6" text-anchor="middle">Mar</text>
<text x="609.3" y="408.6" font-size="6.1" fill="#4a4d57" stroke="#4a4d57" stroke-width="0.2" stroke-opacity="0.6" text-anchor="middle">6</text>
<text x="638.6" y="408.6" font-size="6.1" fill="#4a4d57" stroke="#4a4d57" stroke-width="0.2" stroke-opacity="0.6" text-anchor="middle">11</text>
<text x="667.9" y="408.6" font-size="6.1" fill="#4a4d57" stroke="#4a4d57" stroke-width="0.2" stroke-opacity="0.6" text-anchor="middle">16</text>
<text x="697.2" y="408.6" font-size="6.1" fill="#4a4d57" stroke="#4a4d57" stroke-width="0.2" stroke-opacity="0.6" text-anchor="middle">21</text>
<text x="726.4" y="408.6" font-size="6.1" fill="#4a4d57" stroke="#4a4d57" stroke-width="0.2" stroke-opacity="0.6" text-anchor="middle">26</text>
<g>
<defs><clipPath id="cp0"><circle cx="726.3" cy="392.9" r="4.0"/></clipPath><clipPath id="cp1"><circle cx="732.3" cy="392.9" r="4.0"/></clipPath><clipPath id="cp2"><circle cx="738.5" cy="392.9" r="4.0"/></clipPath></defs>
<circle cx="738.5" cy="392.9" r="4.6" fill="#fff"/>
<g clip-path="url(#cp2)">
<rect x="734.5" y="389" width="8" height="8" fill="#fff"/>
<rect x="734.5" y="390.0" width="8" height="1.0" fill="#f0606b"/>
<rect x="734.5" y="392.1" width="8" height="1.0" fill="#f0606b"/>
<rect x="734.5" y="394.8" width="8" height="1.0" fill="#f0606b"/>
<rect x="734.5" y="389" width="4.6" height="4.9" fill="#3d8ff0"/>
</g>
<circle cx="738.5" cy="392.9" r="4.0" fill="none" stroke="rgba(242,70,85,0.6)" stroke-width="1.2"/>
<circle cx="732.3" cy="392.9" r="4.6" fill="#fff"/>
<g clip-path="url(#cp1)">
<rect x="728.3" y="389" width="8" height="8" fill="#fff"/>
<rect x="728.3" y="390.0" width="8" height="1.0" fill="#f0606b"/>
<rect x="728.3" y="392.1" width="8" height="1.0" fill="#f0606b"/>
<rect x="728.3" y="394.8" width="8" height="1.0" fill="#f0606b"/>
<rect x="728.3" y="389" width="4.6" height="4.9" fill="#3d8ff0"/>
</g>
<circle cx="732.3" cy="392.9" r="4.0" fill="none" stroke="rgba(242,70,85,0.6)" stroke-width="1.2"/>
<circle cx="726.3" cy="392.9" r="4.6" fill="#fff"/>
<g clip-path="url(#cp0)">
<rect x="722.3" y="389" width="8" height="8" fill="#fff"/>
<rect x="722.3" y="390.0" width="8" height="1.0" fill="#f0606b"/>
<rect x="722.3" y="392.1" width="8" height="1.0" fill="#f0606b"/>
<rect x="722.3" y="394.8" width="8" height="1.0" fill="#f0606b"/>
<rect x="722.3" y="389" width="4.6" height="4.9" fill="#3d8ff0"/>
</g>
<circle cx="726.3" cy="392.9" r="4.0" fill="none" stroke="rgba(242,70,85,0.6)" stroke-width="1.2"/>
<circle cx="719.8" cy="392.9" r="3.8" fill="#fff" stroke="#c486ea" stroke-width="1"/>
<text x="720.3" y="394.8" font-size="5" fill="#b070e0" text-anchor="middle">$</text>
<path d="M715.4 393.2L717.0 394.8L715.4 396.4L713.8 394.8Z" fill="#7c4dff"/>
</g>
</svg></body></html>
